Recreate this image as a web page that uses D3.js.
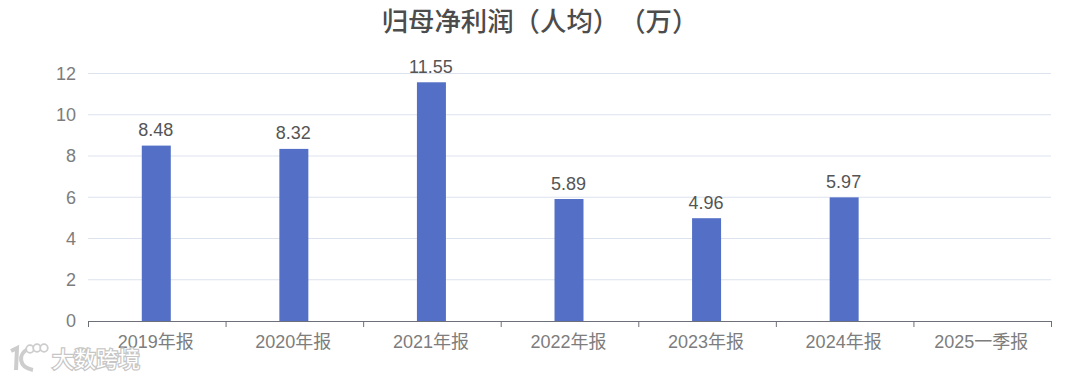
<!DOCTYPE html>
<html>
<head>
<meta charset="utf-8">
<script src="https://cdn.jsdelivr.net/npm/d3@7"></script>
<style>
  html, body { margin: 0; padding: 0; background: #fff; }
  svg { display: block; }
  text { font-family: "Liberation Sans", "Noto Sans CJK SC", sans-serif; text-spacing-trim: space-all; }
</style>
</head>
<body>
<div id="chart"></div>
<script>
const titleText = "归母净利润（人均）（万）";
const categories = ["2019年报", "2020年报", "2021年报", "2022年报", "2023年报", "2024年报", "2025一季报"];
const values = [8.48, 8.32, 11.55, 5.89, 4.96, 5.97, null];
const yTicks = [0, 2, 4, 6, 8, 10, 12];
const watermarkText = "大数跨境";

const svgWidth = 1080, svgHeight = 379;
const margin = { top: 73.5, right: 29, bottom: 58, left: 88 };
const width = svgWidth - margin.left - margin.right;
const height = svgHeight - margin.top - margin.bottom;

const svg = d3.select("#chart").append("svg")
  .attr("width", svgWidth)
  .attr("height", svgHeight);

svg.append("text")
  .attr("x", 540)
  .attr("y", 31)
  .attr("text-anchor", "middle")
  .attr("font-size", 26.4)
  .attr("font-weight", 500)
  .attr("fill", "#4c4c4c")
  .text(titleText);

const g = svg.append("g").attr("transform", `translate(${margin.left},${margin.top})`);

const x = d3.scaleBand().domain(categories).range([0, width]);
const y = d3.scaleLinear().domain([0, 12]).range([height, 0]);

// Gridlines
g.append("g").selectAll("line")
  .data(yTicks.filter(d => d > 0))
  .join("line")
  .attr("x1", 0)
  .attr("x2", width)
  .attr("y1", d => y(d))
  .attr("y2", d => y(d))
  .attr("stroke", "#dde3ee")
  .attr("stroke-width", 1);

// Y axis, labels only
const yAxis = g.append("g").call(d3.axisLeft(y).tickValues(yTicks).tickSize(0).tickPadding(12));
yAxis.select(".domain").remove();
yAxis.selectAll("text").attr("font-size", 18).attr("fill", "#7d7d7d");

// Bars
const barWidth = 29;
const barData = categories.map((c, i) => ({ c, v: values[i] })).filter(d => d.v !== null);
g.append("g").selectAll("rect")
  .data(barData)
  .join("rect")
  .attr("x", d => x(d.c) + x.bandwidth() / 2 - barWidth / 2 - 0.5)
  .attr("y", d => y(d.v) - 0.5)
  .attr("width", barWidth)
  .attr("height", d => height - y(d.v) + 0.5)
  .attr("fill", "#5470c6");

// Value labels
g.append("g").selectAll("text")
  .data(barData)
  .join("text")
  .attr("x", d => x(d.c) + x.bandwidth() / 2 - 1)
  .attr("y", d => y(d.v) - 10)
  .attr("text-anchor", "middle")
  .attr("font-size", 18)
  .attr("fill", "#555")
  .text(d => d.v.toFixed(2));

// X axis
const tickEdges = d3.range(categories.length + 1).map(i => i * x.step());
const xAxis = g.append("g").attr("transform", `translate(0,${height})`);
xAxis.append("line")
  .attr("x1", 0).attr("x2", width)
  .attr("y1", 0.5).attr("y2", 0.5)
  .attr("stroke", "#6e7079");
xAxis.selectAll(".edge").data(tickEdges).join("line")
  .attr("class", "edge")
  .attr("x1", d => d + 0.5).attr("x2", d => d + 0.5)
  .attr("y1", 0).attr("y2", 6)
  .attr("stroke", "#6e7079");
xAxis.selectAll(".cat").data(categories).join("text")
  .attr("class", "cat")
  .attr("x", d => x(d) + x.bandwidth() / 2 - 1)
  .attr("y", 27)
  .attr("text-anchor", "middle")
  .attr("font-size", 18)
  .attr("fill", "#7d7d7d")
  .text(d => d);

// Watermark
const wm = svg.append("g");
wm.append("text")
  .attr("x", 52)
  .attr("y", 367)
  .attr("font-size", 22)
  .attr("fill", "#fff")
  .attr("stroke", "#c6c6c6")
  .attr("stroke-width", 2.5)
  .attr("paint-order", "stroke")
  .text(watermarkText);
wm.append("path")
  .attr("d", "M11 351 L17 348 L16 370 M28 349 C18 354 18 367 33 370")
  .attr("fill", "none")
  .attr("stroke", "#cdcdcd")
  .attr("stroke-width", 4);
[[30, 349], [37, 348], [44, 348]].forEach(p => {
  wm.append("circle").attr("cx", p[0]).attr("cy", p[1]).attr("r", 3.8)
    .attr("fill", "#fff").attr("stroke", "#cdcdcd").attr("stroke-width", 1.8);
});
</script>
</body>
</html>
